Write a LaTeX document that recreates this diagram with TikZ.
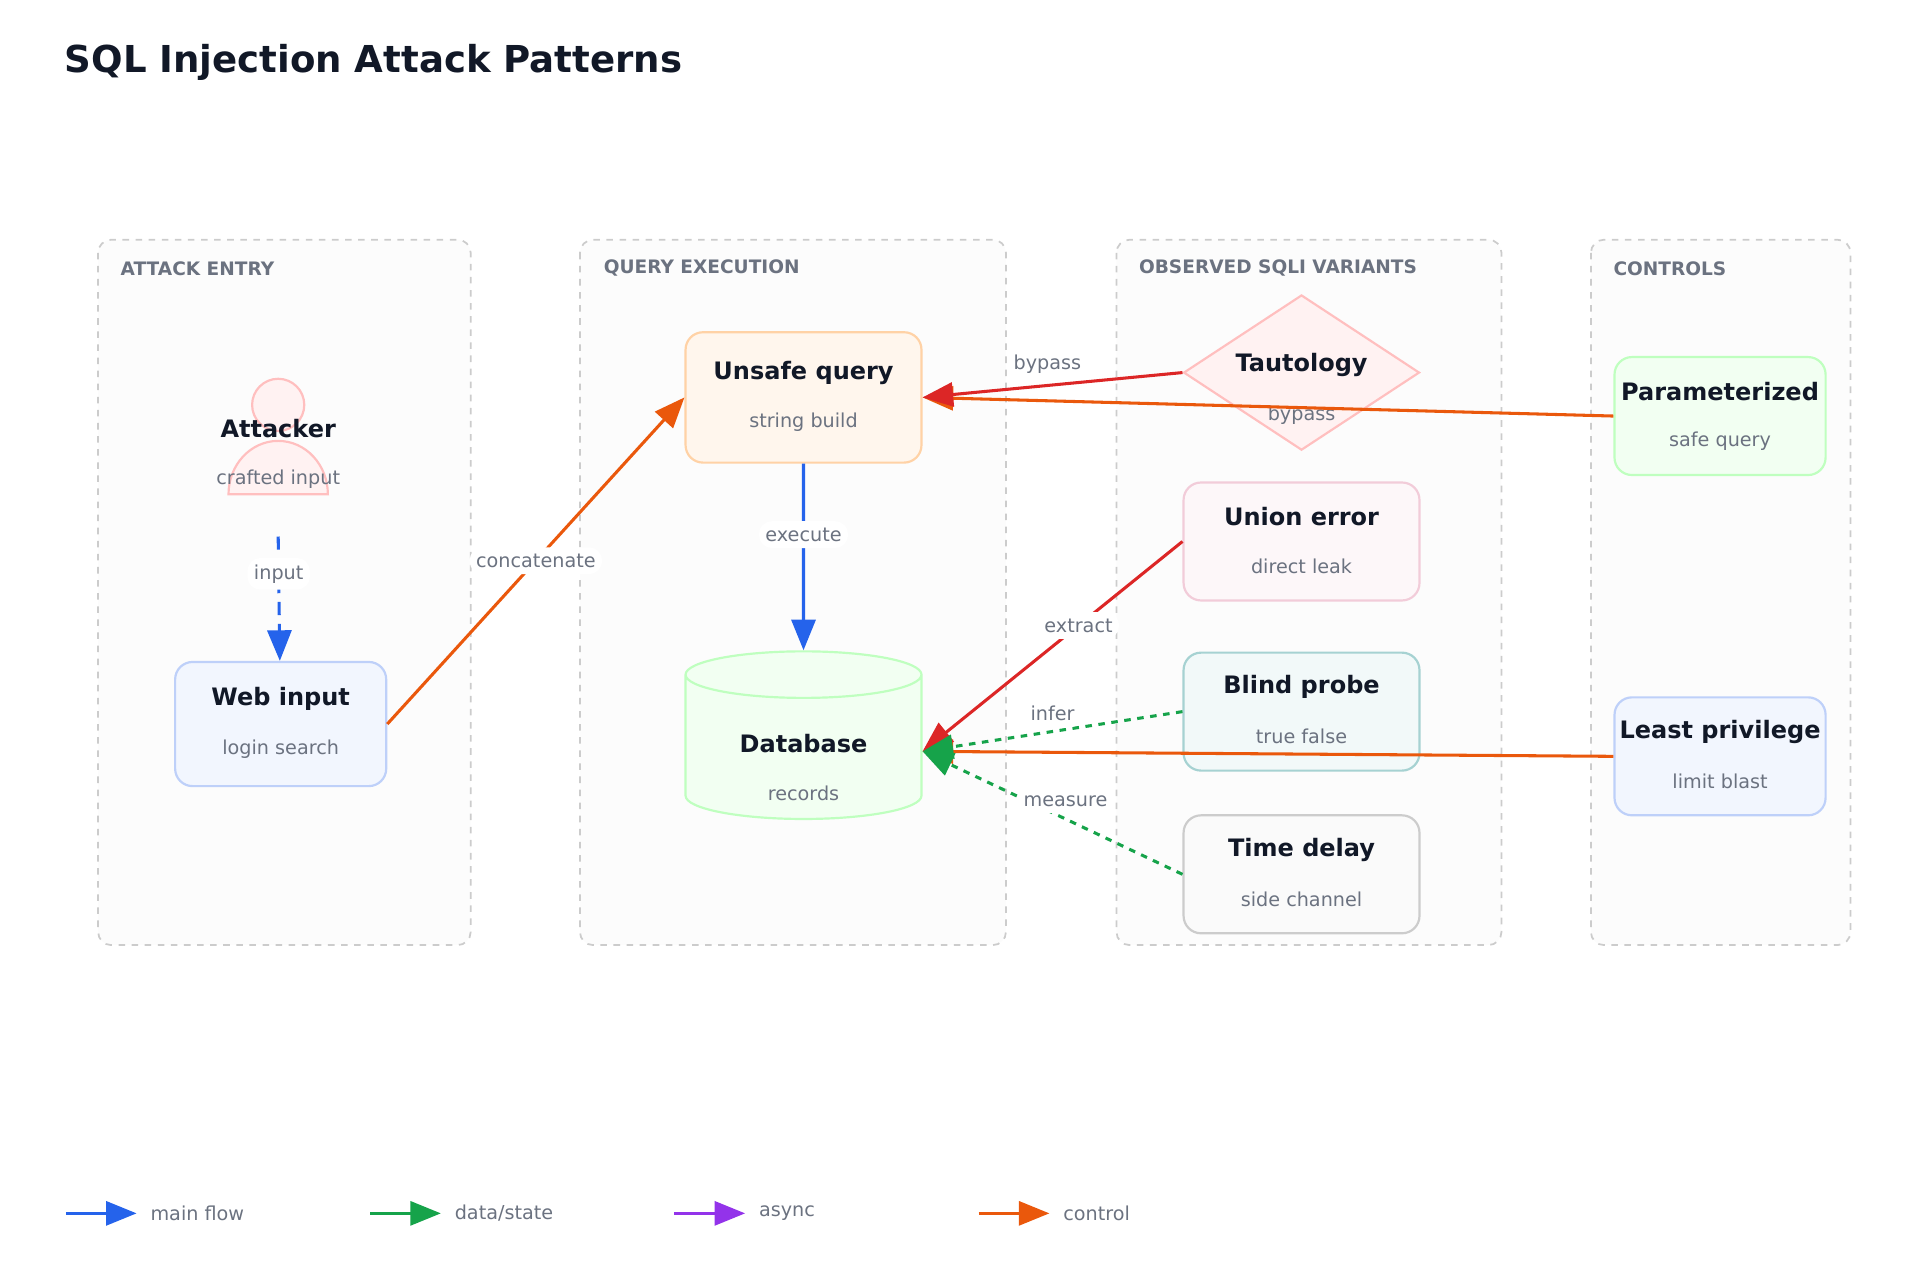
\documentclass[tikz,border=0pt]{standalone}
\usepackage{fontspec}
\setmainfont{DejaVu Sans}
\usetikzlibrary{shapes.geometric,arrows.meta,positioning}
\definecolor{ink}{HTML}{111827}
\definecolor{muted}{HTML}{6B7280}
\definecolor{cblue}{HTML}{2563EB}
\definecolor{cgreen}{HTML}{16A34A}
\definecolor{cpurple}{HTML}{9333EA}
\definecolor{corange}{HTML}{EA580C}
\definecolor{cred}{HTML}{DC2626}
\tikzset{
  lane/.style={draw=black!20,dashed,fill=black!1,rounded corners=6pt,line width=0.8pt},
  lanetitle/.style={anchor=west,text=muted,font=\bfseries\fontsize{8.5}{10}\selectfont},
  box/.style={rounded corners=8pt,line width=1pt,minimum width=3.8cm,minimum height=1.9cm,align=center},
  ttl/.style={font=\bfseries\fontsize{11}{13}\selectfont,text=ink},
  sub/.style={font=\fontsize{8.8}{10}\selectfont,text=muted},
  lbl/.style={fill=white,rounded corners=6pt,font=\fontsize{8.8}{10}\selectfont,text=muted,inner sep=3pt},
  tip/.style={-{Triangle[width=11pt,length=14pt]}},
  flow/.style={tip,line width=1.4pt},
}
\begin{document}
\begin{tikzpicture}[x=0.02cm,y=-0.02cm]
\useasboundingbox (0,0) rectangle (1546,1031);
\node[anchor=west,font=\bfseries\fontsize{17}{20}\selectfont,text=ink] at (46,50) {SQL Injection Attack Patterns};

% lanes
\draw[lane] (79,193) rectangle (379,761);
\draw[lane] (467,193) rectangle (810,761);
\draw[lane] (899,193) rectangle (1209,761);
\draw[lane] (1281,193) rectangle (1490,761);
\node[lanetitle] at (91,216) {ATTACK ENTRY};
\node[lanetitle] at (480,216) {QUERY EXECUTION};
\node[lanetitle] at (911,216) {OBSERVED SQLI VARIANTS};
\node[lanetitle] at (1293,216) {CONTROLS};

% attacker icon
\draw[red!25,fill=red!5,line width=1pt] (224,326) circle (21);
\draw[red!25,fill=red!5,line width=1pt] (184,398) arc (180:360:40 and 43) -- cycle;
\node[ttl] (attacker) at (224,345) {Attacker};
\node[sub] at (224,386) {crafted input};
\coordinate (atk) at (224,432);

% nodes
\node[box,draw=cblue!30,fill=cblue!6,minimum width=3.4cm,minimum height=2cm] (web) at (226,583) {};
\node[box,draw=orange!35,fill=orange!7,minimum height=2.1cm] (unsafe) at (647,320) {};
\node[cylinder,shape border rotate=90,draw=green!25,fill=green!5,line width=1pt,
  minimum width=3.8cm,minimum height=2.7cm,aspect=3.2] (db) at (647,605) {};
\node[diamond,draw=red!25,fill=red!5,line width=1pt,minimum width=3.8cm,minimum height=2.5cm,inner sep=0pt] (taut) at (1048,300) {};
\node[box,draw=purple!20,fill=purple!3] (union) at (1048,436) {};
\node[box,draw=teal!35,fill=teal!5] (blind) at (1048,573) {};
\node[box,draw=black!20,fill=black!2] (delay) at (1048,704) {};
\node[box,draw=green!25,fill=green!5,minimum width=3.4cm] (param) at (1385,335) {};
\node[box,draw=cblue!30,fill=cblue!6,minimum width=3.4cm] (least) at (1385,609) {};

\foreach \n/\t/\s/\d in {web/Web input/login search/0, unsafe/Unsafe query/string build/0,
  db/Database/records/-14, taut/Tautology/bypass/-14, union/Union error/direct leak/0,
  blind/Blind probe/true false/0, delay/Time delay/side channel/0,
  param/Parameterized/safe query/0, least/Least privilege/limit blast/0}
{
  \node[ttl] at ([yshift=\d*0.02cm+0.4cm]\n.center) {\t};
  \node[sub] at ([yshift=\d*0.02cm-0.4cm]\n.center) {\s};
}

% connectors
\draw[flow,cblue,dash pattern=on 6pt off 4pt] (atk) -- node[lbl,pos=0.3] {input} (web);
\draw[flow,corange] (web.east) -- node[lbl,pos=0.5] {concatenate} (unsafe.west);
\draw[flow,cblue] (unsafe) -- node[lbl,pos=0.38] {execute} (db.north);
\draw[flow,corange] (param.west) -- (unsafe.east);
\draw[flow,cred] (taut.west) -- node[lbl,pos=0.52,above=2pt] {bypass} (unsafe.east);
\draw[flow,corange] (least.west) -- (db.east);
\draw[flow,cred] (union.west) -- node[lbl,pos=0.4] {extract} (db.east);
\draw[flow,cgreen,dashed] (blind.west) -- node[lbl,pos=0.5,above=1pt] {infer} (db.east);
\draw[flow,cgreen,dashed] (delay.west) -- node[lbl,pos=0.45,above=2pt] {measure} (db.east);

% legend
\foreach \x/\c/\t in {53/cblue/main flow, 298/cgreen/{data/state}, 543/cpurple/async, 788/corange/control}
{
  \draw[flow,\c] (\x,977) -- ++(57,0);
  \node[sub,anchor=west] at (\x+62,977) {\t};
}
\end{tikzpicture}
\end{document}
